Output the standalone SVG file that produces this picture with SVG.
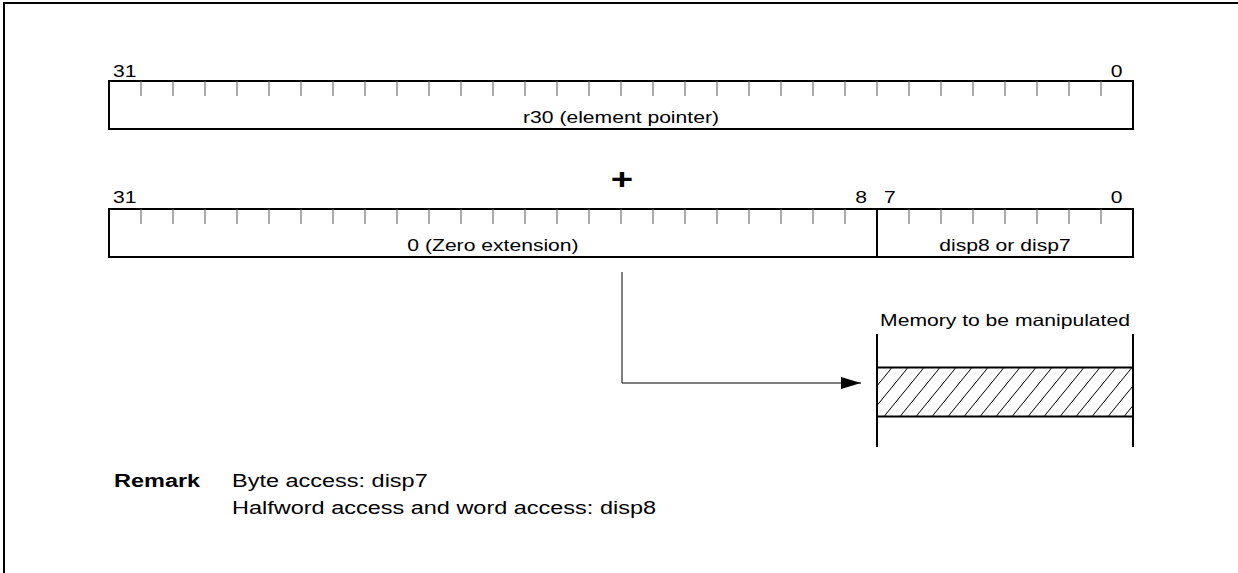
<svg xmlns="http://www.w3.org/2000/svg" width="1238" height="573" viewBox="0 0 1238 573">
<style>
.reg{fill:#fff;stroke:#000;stroke-width:2}
.tick{stroke:#555;stroke-width:1}
.lbl{font-family:"Liberation Sans",Arial,sans-serif;font-size:16.5px;fill:#000}
.rem{font-family:"Liberation Sans",Arial,sans-serif;font-size:18.5px;fill:#000}
.bold{font-weight:bold}
.conn{fill:none;stroke:#000;stroke-width:1}
.mem{stroke:#000;stroke-width:2;fill:none}
.hatch{stroke:#000;stroke-width:1;fill:none}
</style>
<defs>
<marker id="arr" markerUnits="userSpaceOnUse" markerWidth="20" markerHeight="12" refX="20" refY="6" orient="auto">
<path d="M0,0L20,6L0,12z" fill="#000"/>
</marker>
<clipPath id="memclip"><rect x="877" y="367.5" width="256" height="49"/></clipPath>
</defs>
<rect width="1238" height="573" fill="#fff"/>
<path d="M4,573V3H1238" fill="none" stroke="#000" stroke-width="2"/>

<g id="reg-r30">
<rect class="reg" x="109" y="81" width="1024" height="48"/>
<path class="tick" d="M141,81v15M173,81v15M205,81v15M237,81v15M269,81v15M301,81v15M333,81v15M365,81v15M397,81v15M429,81v15M461,81v15M493,81v15M525,81v15M557,81v15M589,81v15M621,81v15M653,81v15M685,81v15M717,81v15M749,81v15M781,81v15M813,81v15M845,81v15M877,81v15M909,81v15M941,81v15M973,81v15M1005,81v15M1037,81v15M1069,81v15M1101,81v15"/>
<text class="lbl" transform="matrix(1.28,0,0,1,113,77)">31</text>
<text class="lbl" text-anchor="end" transform="matrix(1.28,0,0,1,1122.6,77)">0</text>
<text class="lbl" text-anchor="middle" transform="matrix(1.28,0,0,1,621,122.5)">r30 (element pointer)</text>
</g>

<g id="plus">
<text class="lbl bold" style="font-size:30px" text-anchor="middle" transform="matrix(1.28,0,0,1,622,189)">+</text>
</g>

<g id="reg-disp">
<rect class="reg" x="109" y="209" width="1024" height="48"/>
<path class="reg" d="M877,209v48"/>
<path class="tick" d="M141,209v15M173,209v15M205,209v15M237,209v15M269,209v15M301,209v15M333,209v15M365,209v15M397,209v15M429,209v15M461,209v15M493,209v15M525,209v15M557,209v15M589,209v15M621,209v15M653,209v15M685,209v15M717,209v15M749,209v15M781,209v15M813,209v15M845,209v15M909,209v15M941,209v15M973,209v15M1005,209v15M1037,209v15M1069,209v15M1101,209v15"/>
<text class="lbl" transform="matrix(1.28,0,0,1,113,203)">31</text>
<text class="lbl" text-anchor="end" transform="matrix(1.28,0,0,1,867,203)">8</text>
<text class="lbl" transform="matrix(1.28,0,0,1,884,203)">7</text>
<text class="lbl" text-anchor="end" transform="matrix(1.28,0,0,1,1122.6,203)">0</text>
<text class="lbl" text-anchor="middle" transform="matrix(1.28,0,0,1,493,250.5)">0 (Zero extension)</text>
<text class="lbl" text-anchor="middle" transform="matrix(1.28,0,0,1,1005,250.5)">disp8 or disp7</text>
</g>

<g id="memory">
<text class="lbl" text-anchor="middle" transform="matrix(1.28,0,0,1,1005,326)">Memory to be manipulated</text>
<path class="hatch" clip-path="url(#memclip)" d="M836,416.5L876,367.5M852,416.5L892,367.5M868,416.5L908,367.5M884,416.5L924,367.5M900,416.5L940,367.5M916,416.5L956,367.5M932,416.5L972,367.5M948,416.5L988,367.5M964,416.5L1004,367.5M980,416.5L1020,367.5M996,416.5L1036,367.5M1012,416.5L1052,367.5M1028,416.5L1068,367.5M1044,416.5L1084,367.5M1060,416.5L1100,367.5M1076,416.5L1116,367.5M1092,416.5L1132,367.5M1108,416.5L1148,367.5M1124,416.5L1164,367.5M1140,416.5L1180,367.5"/>
<rect class="mem" x="877" y="367.5" width="256" height="49"/>
<path class="mem" d="M877,334V447M1133,334V447"/>
</g>

<g id="connectors">
<path class="conn" d="M622,272V383H861" marker-end="url(#arr)"/>
</g>

<g id="remark">
<text class="rem bold" transform="matrix(1.27,0,0,1,114,487)">Remark</text>
<text class="rem" transform="matrix(1.27,0,0,1,232,487)">Byte access: disp7</text>
<text class="rem" transform="matrix(1.27,0,0,1,232,514)">Halfword access and word access: disp8</text>
</g>
</svg>
